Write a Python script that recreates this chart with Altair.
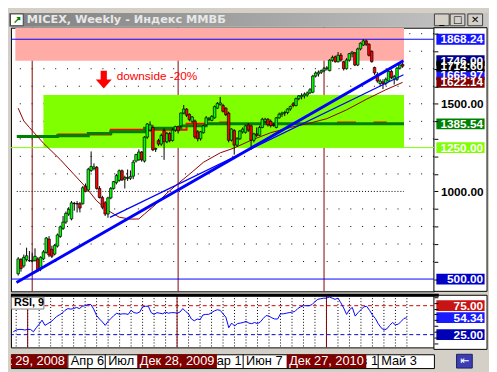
import altair as alt
import pandas as pd

W = 430
H_MAIN = 268
H_RSI = 53
H_DATE = 14
AX_W = 54

# ---------------- data ----------------
weeks = list(range(138))
opens = [530, 611, 575, 611, 606, 602, 605, 615, 560, 615,
         651, 728, 670, 643, 688, 743, 789, 825, 871, 843,
         932, 931, 930, 930, 1030, 1008, 1120, 1130, 1137, 1017,
         965, 935, 871, 963, 1017, 1050, 1063, 1118, 1070, 1080,
         1075, 1087, 1173, 1180, 1225, 1173, 1310, 1350, 1365, 1240,
         1290, 1270, 1347, 1283, 1330, 1290, 1350, 1370, 1374, 1447,
         1470, 1440, 1400, 1402, 1340, 1300, 1335, 1380, 1410, 1405,
         1420, 1475, 1495, 1490, 1475, 1447, 1292, 1347, 1264, 1300,
         1340, 1337, 1380, 1374, 1292, 1328, 1320, 1365, 1400, 1412,
         1400, 1380, 1365, 1420, 1440, 1447, 1450, 1470, 1500, 1490,
         1529, 1540, 1545, 1550, 1562, 1566, 1658, 1670, 1680, 1689,
         1700, 1689, 1749, 1768, 1740, 1777, 1740, 1700, 1749, 1786,
         1791, 1721, 1813, 1835, 1859, 1840, 1799, 1707, 1667, 1615,
         1625, 1615, 1630, 1685, 1640, 1639, 1703, 1725]
highs = [625, 620, 640, 679, 660, 650, 675, 625, 630, 665,
         740, 745, 690, 700, 760, 805, 860, 885, 910, 945,
         940, 945, 940, 1030, 1045, 1135, 1228, 1160, 1145, 1030,
         975, 945, 970, 1025, 1060, 1100, 1125, 1125, 1090, 1125,
         1120, 1180, 1215, 1240, 1230, 1315, 1390, 1400, 1380, 1250,
         1300, 1330, 1360, 1340, 1340, 1360, 1375, 1375, 1450, 1493,
         1475, 1445, 1430, 1410, 1350, 1345, 1380, 1430, 1425, 1435,
         1490, 1510, 1539, 1500, 1480, 1455, 1360, 1355, 1310, 1350,
         1365, 1380, 1390, 1380, 1335, 1365, 1375, 1420, 1420, 1418,
         1410, 1390, 1425, 1450, 1455, 1460, 1475, 1490, 1510, 1535,
         1550, 1560, 1565, 1570, 1590, 1665, 1685, 1690, 1695, 1710,
         1715, 1755, 1775, 1775, 1795, 1790, 1745, 1760, 1790, 1800,
         1795, 1820, 1850, 1868.24, 1866, 1845, 1805, 1712, 1680, 1640,
         1640, 1650, 1690, 1695, 1665, 1710, 1725, 1735]
lows = [520, 542, 565, 600, 598, 596, 600, 540, 545, 608,
        645, 625, 620, 635, 680, 735, 780, 815, 860, 835,
        890, 880, 880, 925, 995, 1000, 1110, 1120, 1010, 960,
        900, 860, 850, 955, 1010, 1040, 1055, 1060, 1017, 1060,
        1065, 1070, 1165, 1175, 1170, 1165, 1300, 1340, 1230, 1225,
        1260, 1260, 1180, 1275, 1280, 1285, 1340, 1330, 1365, 1440,
        1425, 1400, 1390, 1300, 1285, 1290, 1330, 1375, 1400, 1400,
        1415, 1470, 1490, 1450, 1430, 1280, 1285, 1210, 1255, 1295,
        1330, 1330, 1340, 1237, 1280, 1310, 1315, 1360, 1390, 1370,
        1365, 1370, 1360, 1415, 1425, 1430, 1440, 1460, 1480, 1485,
        1520, 1525, 1530, 1540, 1555, 1560, 1650, 1655, 1670, 1680,
        1690, 1685, 1740, 1735, 1735, 1740, 1690, 1695, 1740, 1765,
        1715, 1715, 1805, 1830, 1830, 1770, 1735, 1665, 1620, 1600,
        1584, 1605, 1625, 1640, 1610, 1630, 1695, 1705]
closes = [615, 560, 624, 633, 604, 606, 630, 551, 624, 655,
          734, 637, 630, 692, 752, 798, 825, 875, 898, 935,
          930, 928, 905, 1021, 1000, 1127, 1142, 1140, 1017, 965,
          910, 871, 963, 1017, 1056, 1090, 1118, 1065, 1080, 1075,
          1085, 1167, 1210, 1225, 1180, 1310, 1385, 1380, 1237, 1245,
          1270, 1320, 1283, 1330, 1290, 1350, 1370, 1345, 1447, 1470,
          1435, 1410, 1425, 1310, 1300, 1340, 1374, 1420, 1415, 1428,
          1484, 1502, 1505, 1457, 1438, 1292, 1356, 1264, 1300, 1345,
          1355, 1374, 1350, 1292, 1328, 1320, 1365, 1412, 1412, 1380,
          1375, 1375, 1420, 1440, 1447, 1450, 1470, 1484, 1490, 1529,
          1545, 1548, 1555, 1562, 1580, 1658, 1676, 1680, 1689, 1700,
          1705, 1749, 1765, 1740, 1777, 1750, 1700, 1750, 1786, 1795,
          1721, 1813, 1846, 1859, 1840, 1777, 1740, 1676, 1630, 1630,
          1615, 1640, 1685, 1650, 1655, 1703, 1721, 1714.60]
rsi9 = [30, 33, 34, 34, 33, 34, 34, 30, 37, 43,
        50, 41, 44, 47, 51, 56, 59, 62, 67, 70,
        69, 70, 72, 70, 74, 75, 77, 77, 69, 58,
        52, 47, 41, 48, 53, 58, 62, 60, 61, 61,
        60, 67, 63, 62, 64, 73, 74, 74, 63, 60,
        63, 62, 61, 64, 62, 63, 63, 62, 64, 70,
        65, 61, 52, 49, 52, 51, 59, 60, 60, 63,
        66, 68, 67, 61, 55, 37, 45, 40, 44, 45,
        46, 48, 45, 44, 46, 44, 47, 53, 58, 57,
        54, 52, 52, 61, 61, 62, 63, 64, 65, 70,
        73, 75, 75, 75, 77, 82, 86, 87, 88, 88,
        90, 88, 86, 88, 80, 71, 60, 68, 72, 57,
        63, 68, 73, 74, 67, 59, 53, 44, 37, 33,
        35, 41, 46, 42, 43, 48, 53, 54.34]

ma_weeks = [0, 2, 4, 9, 15, 20, 24, 28, 32, 36, 40, 43, 45, 49, 53,
            57, 62, 66, 72, 77, 83, 90, 97, 104, 110, 117, 124, 131, 137]
ma_vals = [1475, 1402, 1365, 1275, 1182, 1095, 1026, 946, 891, 853, 842, 843, 871, 926, 990,
           1045, 1111, 1166, 1220, 1248, 1292, 1335, 1365, 1390, 1415, 1465, 1525, 1580, 1622.14]

green_ma_weeks = [-0.5, 14, 25, 33, 45, 58, 67, 137.5]
green_ma_vals = [1313, 1318, 1330, 1341, 1360, 1374, 1385.54, 1385.54]
red_ma_weeks = [14, 33, 60, 72, 75, 87, 90, 114, 120, 127, 131, 137.5]
red_ma_vals = [1325, 1352, 1386, 1393, 1385, 1393, 1385, 1393, 1385, 1393, 1385, 1385]

trend_thick_weeks = [-0.6, 137.3]
trend_thick_vals = [480, 1746.0]
trend_thin_weeks = [32.7, 137.3]
trend_thin_vals = [852, 1665.97]

zone_w0 = [-1.0, 9.0]
zone_w1 = [137.5, 137.5]
zone_lo = [1746.0, 1250.0]
zone_hi = [1934.0, 1550.0]
zone_fill = ["#ffaca6", "#80ff00"]

hline_vals = [1868.24, 500.0, 1250.0]
hline_colors = ["#0000ff", "#0000ff", "#80ff00"]

grid_levels = [600, 700, 800, 900, 1100, 1200, 1300, 1400, 1500, 1600, 1700, 1800, 1900]
dense_level = [1000]

year_weeks = [5, 57, 109]
year_labels = ["Дек 29, 2008", "Дек 28, 2009", "Дек 27, 2010"]
date_weeks = [19, 32, 66, 80, 114, 127]
date_labels = ["Апр 6", "Июл 6", "Мар 1", "Июн 7", "Фев 1", "Май 3"]

tag_vals = [1746.00, 1665.97, 1714.60, 1622.14, 1868.24, 1385.54, 1250.00, 500.00]
tag_fill = ["#000090", "#1a1aff", "#000000", "#800000", "#1414ff", "#008000", "#80ff00", "#0000c8"]
rsi_tag_vals = [75.0, 54.34, 25.0]
rsi_tag_fill = ["#c81414", "#1a1aff", "#0000b4"]
rsi_levels = [75, 25]
rsi_level_colors = ["#d00000", "#0000d0"]
rsi_grid_weeks = list(range(1, 140, 4))

arrow_week, arrow_val = [30.5], [1638]
note_week, note_val, note_text = [35.1], [1660], ["downside -20%"]

TITLE = "MICEX, Weekly - Индекс ММВБ"
FONT = "Liberation Sans"

# ---------------- helpers ----------------
xs = alt.Scale(domain=[-0.82, 146.4], nice=False, zero=False)
ys = alt.Scale(domain=[430, 1934], nice=False, zero=False)
rs = alt.Scale(domain=[3, 93], nice=False, zero=False)

yaxis = alt.Axis(orient="right", values=list(range(500, 2000, 100)), grid=False, domain=False,
                 tickColor="black", tickSize=4, title=None, zindex=1,
                 labelExpr="datum.value == 1500 || datum.value == 1000 ? format(datum.value, '.2f') : ''",
                 labelAlign="right", labelPadding=46, labelFont=FONT, labelFontSize=12,
                 labelFontWeight="bold", labelColor="black", labelBaseline="middle")
raxis = alt.Axis(orient="right", values=list(range(10, 100, 10)), grid=False, domain=False,
                 tickColor="black", tickSize=4, title=None, zindex=1, labels=False)


def X(f):
    return alt.X(f, type="quantitative", scale=xs, axis=None)


def Y(f):
    return alt.Y(f, type="quantitative", scale=ys, axis=yaxis)


def YR(f):
    return alt.Y(f, type="quantitative", scale=rs, axis=raxis)


def box(w, h):
    r = h / w
    return f"M-1,{-r:.4f}L1,{-r:.4f}L1,{r:.4f}L-1,{r:.4f}Z"


one = pd.DataFrame({"k": [0]})

candles = pd.DataFrame({"w": weeks, "o": opens, "h": highs, "l": lows, "c": closes})
candles["col"] = ["#00ff00" if c >= o else "#ff0000" for o, c in zip(opens, closes)]

# ---------------- main panel ----------------
grad = alt.LinearGradient(gradient="linear",
                          stops=[alt.GradientStop(color="#808080", offset=0),
                                 alt.GradientStop(color="#c6c6c6", offset=1)],
                          x1=0, x2=1, y1=0, y2=0)

titlebar = alt.Chart(one).mark_rect(fill=grad).encode(
    x=alt.value(-2), x2=alt.value(W + AX_W + 1), y=alt.value(-15), y2=alt.value(-1))
title_txt = alt.Chart(pd.DataFrame({"t": [TITLE]})).mark_text(
    align="left", baseline="middle", font="DejaVu Sans", fontSize=11.5, fontWeight="bold", color="#e8e8e8"
).encode(x=alt.value(16), y=alt.value(-8), text="t:N")
icon = alt.Chart(one).mark_point(shape=box(13, 12), size=169, filled=True, fill="white",
                                 stroke="#404040", strokeWidth=1, opacity=1).encode(
    x=alt.value(6), y=alt.value(-8))
icon_g = alt.Chart(pd.DataFrame({"t": ["↗"]})).mark_text(
    fontSize=10, color="#008000", fontWeight="bold").encode(x=alt.value(6), y=alt.value(-8), text="t:N")

buttons = []
for bx, g in [(W + 8, "_"), (W + 24, "□"), (W + 42, "✕")]:
    buttons.append(alt.Chart(one).mark_point(shape=box(15, 12), size=225, filled=True, fill="#d4d0c8",
                                             stroke="#404040", strokeWidth=1, opacity=1).encode(
        x=alt.value(bx), y=alt.value(-8)))
    buttons.append(alt.Chart(pd.DataFrame({"t": [g]})).mark_text(
        font="DejaVu Sans", fontSize=10, fontWeight="bold", color="black", baseline="middle").encode(
        x=alt.value(bx), y=alt.value(-8), text="t:N"))

axis_bg = alt.Chart(one).mark_rect(fill="white", stroke="black", strokeWidth=1).encode(
    x=alt.value(W), x2=alt.value(W + AX_W), y=alt.value(0), y2=alt.value(H_MAIN))

grid = alt.Chart(pd.DataFrame({"v": grid_levels})).mark_rule(
    color="black", strokeDash=[1, 11], strokeWidth=1).encode(y=Y("v"))
dense = alt.Chart(pd.DataFrame({"v": dense_level, "a": [-0.5], "b": [137.5]})).mark_rule(
    color="black", strokeDash=[1, 2], strokeWidth=1).encode(y=Y("v"), x=X("a"), x2="b")
years_main = alt.Chart(pd.DataFrame({"w": year_weeks})).mark_rule(
    color="#800000", strokeWidth=1).encode(x=X("w"))
zones = alt.Chart(pd.DataFrame({"w0": zone_w0, "w1": zone_w1, "lo": zone_lo, "hi": zone_hi,
                                "c": zone_fill})).mark_rect(clip=True).encode(
    x=X("w0"), x2="w1", y=Y("lo"), y2="hi", fill=alt.Fill("c:N", scale=None))
hlines = alt.Chart(pd.DataFrame({"v": hline_vals, "c": hline_colors})).mark_rule(strokeWidth=1).encode(
    y=Y("v"), color=alt.Color("c:N", scale=None))
red_ma = alt.Chart(pd.DataFrame({"w": red_ma_weeks, "v": red_ma_vals})).mark_line(
    color="#ff0000", strokeWidth=2, interpolate="step-after", clip=True).encode(x=X("w"), y=Y("v"))
green_ma = alt.Chart(pd.DataFrame({"w": green_ma_weeks, "v": green_ma_vals})).mark_line(
    color="#008000", strokeWidth=3, interpolate="step-after", clip=True).encode(x=X("w"), y=Y("v"))
ma = alt.Chart(pd.DataFrame({"w": ma_weeks, "v": ma_vals})).mark_line(
    color="#8b0000", strokeWidth=1).encode(x=X("w"), y=Y("v"))
wicks = alt.Chart(candles).mark_rule(color="black", strokeWidth=1).encode(
    x=X("w"), y=Y("l"), y2="h")
bodies = alt.Chart(candles).mark_bar(width=2.6, stroke="black", strokeWidth=0.7).encode(
    x=X("w"), y=Y("o"), y2="c", fill=alt.Fill("col:N", scale=None))
t_thick = alt.Chart(pd.DataFrame({"w": trend_thick_weeks, "v": trend_thick_vals})).mark_line(
    color="#0000ff", strokeWidth=3, clip=True).encode(x=X("w"), y=Y("v"))
t_thin = alt.Chart(pd.DataFrame({"w": trend_thin_weeks, "v": trend_thin_vals})).mark_line(
    color="#0000ff", strokeWidth=1.2).encode(x=X("w"), y=Y("v"))
arrow = alt.Chart(pd.DataFrame({"w": arrow_week, "v": arrow_val})).mark_point(
    shape="M-0.35,-1L0.35,-1L0.35,0L0.9,0L0,1L-0.9,0L-0.35,0Z", size=324, filled=True,
    color="#ff0000", opacity=1).encode(x=X("w"), y=Y("v"))
note = alt.Chart(pd.DataFrame({"w": note_week, "v": note_val, "t": note_text})).mark_text(
    align="left", baseline="middle", font=FONT, fontSize=12, color="#ff0000").encode(
    x=X("w"), y=Y("v"), text="t:N")
tags_df = pd.DataFrame({"v": tag_vals, "c": tag_fill, "t": [f"{v:.2f}" for v in tag_vals]})
tag_box = alt.Chart(tags_df).mark_point(shape=box(49, 11), size=49 ** 2, filled=True, opacity=1).encode(
    x=alt.value(W + 27), y=Y("v"), fill=alt.Fill("c:N", scale=None))
tag_txt = alt.Chart(tags_df).mark_text(align="right", baseline="middle", font=FONT, fontSize=12,
                                       fontWeight="bold", color="white").encode(
    x=alt.value(W + 50), y=Y("v"), text="t:N")

main = alt.layer(titlebar, title_txt, icon, icon_g, *buttons, axis_bg, grid, dense, years_main,
                 zones, hlines, red_ma, green_ma, ma, wicks, bodies, t_thick, t_thin, arrow, note,
                 tag_box, tag_txt).properties(width=W, height=H_MAIN)

# ---------------- RSI panel ----------------
rsi_df = pd.DataFrame({"w": weeks, "r": rsi9})
r_axis_bg = alt.Chart(one).mark_rect(fill="white", stroke="black", strokeWidth=1).encode(
    x=alt.value(W), x2=alt.value(W + AX_W), y=alt.value(0), y2=alt.value(H_RSI + 2))
r_grid = alt.Chart(pd.DataFrame({"w": rsi_grid_weeks})).mark_rule(
    color="black", strokeDash=[1, 2], strokeWidth=1).encode(x=X("w"))
r_levels = alt.Chart(pd.DataFrame({"v": rsi_levels, "c": rsi_level_colors})).mark_rule(
    strokeDash=[4, 3], strokeWidth=1).encode(y=YR("v"), color=alt.Color("c:N", scale=None))
r_years = alt.Chart(pd.DataFrame({"w": year_weeks})).mark_rule(
    color="#800000", strokeWidth=1).encode(x=X("w"))
r_line = alt.Chart(rsi_df).mark_line(color="#0000ff", strokeWidth=1).encode(x=X("w"), y=YR("r"))
r_top = alt.Chart(one).mark_rule(color="black", strokeWidth=3).encode(
    x=alt.value(0), x2=alt.value(W + 5), y=alt.value(0))
r_lab_box = alt.Chart(one).mark_point(shape=box(33, 12), size=33 ** 2, filled=True, fill="white",
                                      stroke="#808080", strokeWidth=1, opacity=1).encode(
    x=alt.value(17), y=alt.value(8))
r_lab = alt.Chart(pd.DataFrame({"t": ["RSI, 9"]})).mark_text(
    align="left", baseline="middle", font=FONT, fontSize=11, fontWeight="bold", color="black").encode(
    x=alt.value(3), y=alt.value(8), text="t:N")
rtags_df = pd.DataFrame({"v": rsi_tag_vals, "c": rsi_tag_fill, "t": [f"{v:.2f}" for v in rsi_tag_vals]})
r_tag_box = alt.Chart(rtags_df).mark_point(shape=box(49, 11), size=49 ** 2, filled=True, opacity=1).encode(
    x=alt.value(W + 27), y=YR("v"), fill=alt.Fill("c:N", scale=None))
r_tag_txt = alt.Chart(rtags_df).mark_text(align="right", baseline="middle", font=FONT, fontSize=12,
                                          fontWeight="bold", color="white").encode(
    x=alt.value(W + 50), y=YR("v"), text="t:N")

rsi = alt.layer(r_axis_bg, r_grid, r_levels, r_years, r_line, r_top, r_lab_box, r_lab,
                r_tag_box, r_tag_txt).properties(width=W, height=H_RSI)

# ---------------- date bar ----------------
d_df = pd.DataFrame({"w": date_weeks, "t": date_labels})
y_df = pd.DataFrame({"w": year_weeks, "t": year_labels})
d_sep = alt.Chart(d_df).mark_rule(color="black", strokeWidth=1).encode(x=X("w"))
d_txt = alt.Chart(d_df).mark_text(align="left", baseline="middle", dx=3, font=FONT, fontSize=13,
                                  color="black", clip=True).encode(
    x=X("w"), y=alt.value(H_DATE / 2), text="t:N")
d_box = alt.Chart(y_df).mark_point(shape=box(81, 14), size=81 ** 2, filled=True, fill="#800000",
                                   opacity=1, clip=True).encode(x=X("w"), y=alt.value(H_DATE / 2))
d_btxt = alt.Chart(y_df).mark_text(align="center", baseline="middle", font=FONT, fontSize=13,
                                   color="white", clip=True).encode(
    x=X("w"), y=alt.value(H_DATE / 2), text="t:N")
d_icon = alt.Chart(one).mark_point(shape=box(16, 14), size=256, filled=True, fill="#3c3cb4",
                                   stroke="#202060", strokeWidth=1, opacity=1).encode(
    x=alt.value(W + 31), y=alt.value(H_DATE / 2))
d_icon_g = alt.Chart(pd.DataFrame({"t": ["⇤"]})).mark_text(
    font="DejaVu Sans", fontSize=11, color="white", baseline="middle").encode(
    x=alt.value(W + 31), y=alt.value(H_DATE / 2), text="t:N")

datebar = alt.layer(d_sep, d_txt, d_box, d_btxt, d_icon, d_icon_g).properties(width=W, height=H_DATE)

chart = alt.vconcat(main, rsi, datebar, spacing=1).properties(
    background="#d4d0c8", padding={"left": 0, "right": 0, "top": 0, "bottom": 0}
).configure_view(fill="white", stroke="black", strokeWidth=1)

chart.save("out.html", embed_options={"renderer": "svg", "actions": False})
